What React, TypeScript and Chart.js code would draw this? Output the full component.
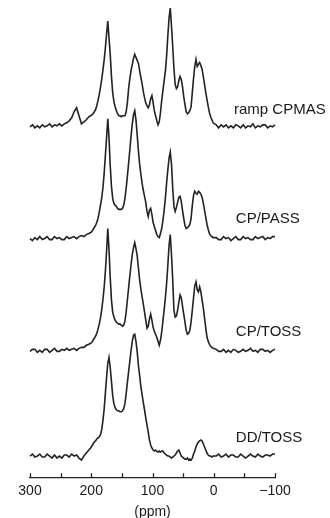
import React, { useEffect, useRef } from "react";
import { Chart, registerables } from "chart.js";

Chart.register(...registerables);

// Chemical shift grid (ppm)
const ppm = [
  300, 296, 292, 288, 284, 280, 276, 272, 268, 264, 260, 256, 252, 248, 244, 240, 236, 232, 228, 224, 220, 216, 212, 208, 204,
  201, 199, 197, 195, 193, 191, 189, 187, 185, 183,
  181, 179, 177, 175, 173, 171, 169, 167, 165, 163,
  161, 159, 157, 155, 153, 151, 149, 147, 145, 143,
  141, 139, 137, 135, 133, 131, 129, 127, 125, 123,
  121, 119, 117, 115, 113, 111, 109, 107, 105, 103,
  101, 99, 97, 95, 93, 91, 89, 87, 85, 83,
  81, 79, 77, 75, 73, 71, 69, 67, 65, 63,
  61, 59, 57, 55, 53, 51, 49, 47, 45, 43,
  41, 39, 37, 35, 33, 31, 29, 27, 25, 23,
  21, 19, 17, 15, 13, 11, 9, 7, 5, 3,
  1,
  -4, -8, -12, -16, -20, -24, -28, -32, -36, -40, -44, -48, -52, -56, -60, -64, -68, -72, -76, -80, -84, -88, -92, -96, -100,
];

// Intensities (arbitrary units, relative to each spectrum's own baseline)
const rampCPMAS = [
  0, 2, -1, 1, -1, 2, 0, 1, 3, 0, 2, 1, 3, 1, 3, 4, 6, 9, 15, 19, 11, 3, 5, 7, 10,
  11, 12, 13, 15, 17, 21, 26, 32, 39, 47,
  56, 66, 78, 92, 105, 88, 72, 50, 34, 25,
  20, 16, 13, 11, 11, 10, 11, 11, 11, 15,
  24, 38, 48, 56, 62, 68, 72, 69, 66, 63,
  56, 49, 43, 35, 29, 24, 21, 19, 22, 28,
  31, 24, 16, 11, 6, 2, 5, 14, 26, 36,
  46, 55, 70, 90, 108, 118, 100, 80, 58, 42,
  38, 40, 46, 50, 47, 40, 30, 22, 15, 13,
  14, 16, 20, 34, 48, 60, 67, 60, 62, 64,
  61, 57, 50, 42, 34, 27, 20, 14, 10, 7,
  4,
  2, -1, 2, 0, 2, -1, 1, -1, 2, 1, -1, 2, -1, 1, 0, 3, -1, 1, 0, 2, 2, -1, 1, 0, 2,
];

const cpPASS = [
  0, -2, 1, -1, 2, -1, 0, 2, -1, -1, 2, 0, 1, -1, -1, 2, 0, 1, 2, 0, 2, 3, 2, 4, 5,
  6, 7, 9, 11, 13, 16, 20, 26, 33, 40,
  50, 64, 82, 100, 119, 100, 72, 52, 40, 35,
  33, 32, 30, 29, 29, 29, 30, 33, 40, 50,
  62, 75, 88, 102, 114, 123, 127, 118, 103, 87,
  74, 64, 55, 48, 42, 36, 27, 22, 28, 30,
  24, 16, 12, 8, 4, 2, 1, 5, 10, 18,
  28, 40, 55, 68, 80, 86, 74, 50, 32, 27,
  31, 36, 41, 42, 37, 28, 20, 13, 10, 11,
  12, 14, 20, 33, 43, 47, 45, 44, 47, 46,
  44, 41, 35, 28, 21, 14, 9, 5, 3, 2,
  1,
  1, -1, -1, 2, 0, 1, -2, 0, 2, -1, -1, 2, 0, 1, -1, -1, 2, 0, 1, 2, -1, 1, 0, 2, 2,
];

const cpTOSS = [
  -1, 1, 1, -2, 0, -2, 1, 1, -2, 0, 2, -1, -1, 1, 0, 2, 0, 1, 2, 0, 2, 3, 3, 5, 6,
  7, 8, 10, 12, 14, 17, 21, 26, 32, 40,
  50, 62, 78, 98, 121, 100, 72, 50, 38, 33,
  30, 28, 27, 26, 26, 25, 24, 25, 29, 38,
  50, 62, 74, 85, 95, 102, 107, 101, 94, 82,
  70, 61, 53, 46, 38, 30, 22, 24, 31, 36,
  30, 23, 19, 16, 13, 9, 5, 10, 18, 29,
  40, 52, 66, 84, 104, 115, 95, 70, 40, 33,
  34, 40, 48, 55, 52, 44, 36, 28, 20, 16,
  17, 20, 28, 40, 52, 64, 68, 60, 58, 63,
  58, 50, 42, 32, 22, 13, 9, 6, 4, 3,
  2,
  1, -1, -1, 1, -2, 0, -2, 1, 0, -2, -1, 1, -1, 0, 2, -1, 0, -2, 1, 1, -1, 0, -2, 0, 1,
];

const ddTOSS = [
  0, 2, -1, 0, 2, -1, -1, 2, 0, -2, 1, -2, 0, -2, 1, 1, -1, 2, 0, 1, -2, -4, 0, 3, 6,
  8, 10, 12, 14, 15, 17, 18, 19, 21, 26,
  35, 46, 62, 78, 92, 98, 88, 74, 60, 52,
  48, 46, 45, 45, 44, 44, 45, 47, 52, 62,
  73, 84, 94, 105, 114, 120, 121, 114, 104, 90,
  80, 69, 61, 53, 46, 38, 31, 24, 16, 11,
  8, 6, 5, 6, 5, 4, 5, 4, 5, 5,
  3, 2, 1, 0, 0, -1, -2, -1, 0, 1,
  3, 5, 6, 3, 0, -1, -2, -3, -3, -2,
  -4, -3, -4, -2, 2, 5, 9, 12, 14, 15,
  16, 15, 12, 9, 6, 3, 1, 0, 0, -1,
  0,
  0, 2, -1, 0, 2, -1, 1, 1, -1, -1, 2, 0, -2, 0, 2, 0, -1, 2, 0, -1, 1, 1, 0, 2, 2,
];

const spectrumNames = ["ramp CPMAS", "CP/PASS", "CP/TOSS", "DD/TOSS"];
const stackOffsets = [348, 237, 126, 21];
const labelPpm = [-33, -36, -36, -36];
const labelRise = [17, 20, 18, 18];
const xTicksLabelled = [300, 200, 100, 0, -100];
const xTitle = "(ppm)";

const LINE = "#222";
const FONT = '"Liberation Sans", Arial, sans-serif';

export default function App() {
  const canvasRef = useRef<HTMLCanvasElement | null>(null);

  useEffect(() => {
    const canvas = canvasRef.current;
    if (!canvas) return;
    const series = [rampCPMAS, cpPASS, cpTOSS, ddTOSS];

    const datasets = series.map((vals, i) => ({
      label: spectrumNames[i],
      data: ppm.map((p, j) => ({ x: p, y: vals[j] + stackOffsets[i] })),
      borderColor: LINE,
      borderWidth: 1.6,
      pointRadius: 0,
      tension: 0,
      fill: false,
      clip: false as const,
    }));

    const decorations = {
      id: "decorations",
      afterDraw(chart: any) {
        const { ctx, chartArea, scales } = chart;
        const xs = scales.x;
        const ys = scales.y;
        ctx.save();
        // inward tick marks
        ctx.strokeStyle = "#222";
        ctx.lineWidth = 1.3;
        xs.ticks.forEach((t: any) => {
          const px = Math.round(xs.getPixelForValue(t.value)) + 0.5;
          ctx.beginPath();
          ctx.moveTo(px, chartArea.bottom);
          ctx.lineTo(px, chartArea.bottom - 4);
          ctx.stroke();
        });
        // spectrum labels
        ctx.fillStyle = "#1a1a1a";
        ctx.font = "15px " + FONT;
        ctx.textAlign = "left";
        ctx.textBaseline = "middle";
        spectrumNames.forEach((name, i) => {
          const px = xs.getPixelForValue(labelPpm[i]);
          const py = ys.getPixelForValue(stackOffsets[i] + labelRise[i]);
          ctx.fillText(name, px, py);
        });
        // axis title
        ctx.font = "14px " + FONT;
        ctx.textAlign = "center";
        ctx.fillText(xTitle, (chartArea.left + chartArea.right) / 2, chartArea.bottom + 35);
        ctx.restore();
      },
    };

    const chart = new Chart(canvas, {
      type: "line",
      data: { datasets },
      options: {
        animation: false,
        responsive: false,
        maintainAspectRatio: false,
        devicePixelRatio: 1,
        layout: { padding: { left: 30, right: 55, top: 0, bottom: 12 } },
        plugins: {
          legend: { display: false },
          tooltip: { enabled: false },
        },
        scales: {
          x: {
            type: "linear",
            min: -100,
            max: 300,
            reverse: true,
            grid: { display: true, drawOnChartArea: false, drawTicks: false },
            border: { display: true, color: "#222", width: 1.3 },
            ticks: {
              stepSize: 50,
              padding: 6,
              maxRotation: 0,
              autoSkip: false,
              color: "#1a1a1a",
              font: { family: FONT, size: 14 },
              callback: (v: any) =>
                xTicksLabelled.includes(Number(v))
                  ? Number(v) < 0
                    ? "\u2212" + Math.abs(Number(v))
                    : String(v)
                  : "",
            },
            title: { display: false },
          },
          y: {
            type: "linear",
            display: false,
            min: 0,
            max: 474,
          },
        },
      },
      plugins: [decorations],
    });

    return () => chart.destroy();
  }, []);

  return (
    <div style={{ position: "absolute", left: 0, top: 0, width: 330, height: 518, background: "#fff" }}>
      <canvas ref={canvasRef} width={330} height={518} style={{ display: "block" }} />
    </div>
  );
}
